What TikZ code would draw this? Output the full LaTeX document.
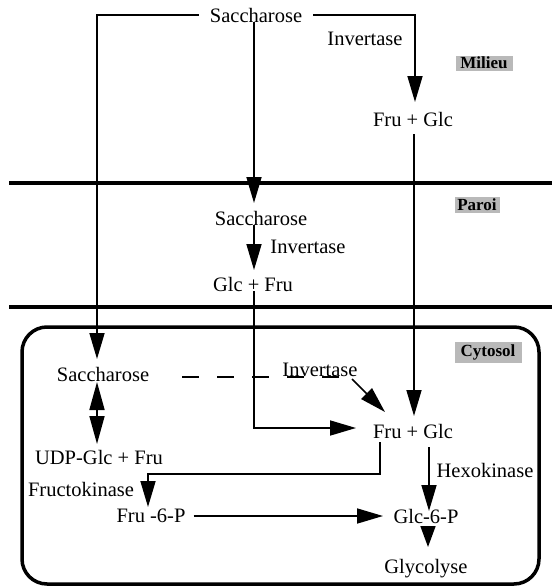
\documentclass[tikz,border=0pt]{standalone}
\usepackage{fontspec}
\setmainfont{Liberation Serif}
\usetikzlibrary{arrows.meta}
\begin{document}
\begin{tikzpicture}[x=1pt,y=-1pt,
  lbl/.style={font=\fontsize{20.5}{24}\selectfont, inner sep=0pt},
  tag/.style={fill=gray!55, font=\fontsize{17}{18}\selectfont\bfseries, inner sep=0pt, text=black},
  conn/.style={line width=1.7pt},
  arr/.style={conn, -{Triangle[length=26pt,width=15pt]}},
  sarr/.style={conn, -{Triangle[length=21pt,width=15pt]}},
  darr/.style={conn, {Triangle[length=28pt,width=15pt]}-{Triangle[length=28pt,width=15pt]}},
  membrane/.style={line width=3.8pt},
  cell/.style={line width=3.5pt, rounded corners=25pt}]
\useasboundingbox (0,0) rectangle (552,587);

% compartments
\draw[membrane] (9,183) -- (552,183);
\draw[membrane] (9,307) -- (552,307);
\draw[cell] (22,327) rectangle (539,584);

% tags
\node[tag, minimum width=57pt, minimum height=15pt] (milieu) at (484,63) {Milieu};
\node[tag, minimum width=45pt, minimum height=16pt] (paroi) at (477,205) {Paroi};
\node[tag, minimum width=67pt, minimum height=21pt] (cytosol) at (488,352) {Cytosol};

% texts
\node[lbl] (s1) at (256,15) {Saccharose};
\node[lbl] (inv1) at (365,39) {Invertase};
\node[lbl] (fg1) at (413,119) {Fru + Glc};
\node[lbl] (s2) at (261,218) {Saccharose};
\node[lbl] (inv2) at (308,247) {Invertase};
\node[lbl] (gf2) at (253,284) {Glc + Fru};
\node[lbl] (s3) at (103,374) {Saccharose};
\node[lbl] (inv3) at (320,370) {Invertase};
\node[lbl] (fg3) at (413,431) {Fru + Glc};
\node[lbl] (udp) at (99,457) {UDP-Glc + Fru};
\node[lbl] (fk) at (81,489) {Fructokinase};
\node[lbl] (f6p) at (151,516) {Fru -6-P};
\node[lbl] (hk) at (485,470) {Hexokinase};
\node[lbl] (g6p) at (426,516) {Glc-6-P};
\node[lbl] (gly) at (426,569) {Glycolyse};

% route coordinates
\coordinate (mx) at (254,0);
\coordinate (rx) at (414,0);
\coordinate (t1) at (97,359);
\coordinate (t2) at (415,102);
\coordinate (t3) at (254,203);
\coordinate (t4) at (254,270);
\coordinate (t5) at (356,428);
\coordinate (t6) at (414,416);
\coordinate (d0) at (182,377);
\coordinate (d1) at (340,377);
\coordinate (g0) at (352,379);
\coordinate (g1) at (385,412);
\coordinate (u0) at (97,382);
\coordinate (u1) at (97,444);
\coordinate (k0) at (380,442);
\coordinate (k1) at (148,474);
\coordinate (k2) at (148,507);
\coordinate (p1) at (383,516);
\coordinate (h0) at (429,447);
\coordinate (h1) at (429,511);
\coordinate (y0) at (428,526);
\coordinate (y1) at (428,547);

% connectors
\draw[arr] ([xshift=-11pt]s1.west) -| (t1);
\draw[arr] ([xshift=11pt]s1.east) -| (t2);
\draw[arr] (s1.south -| mx) -- (t3);
\draw[arr] (s2.south -| mx) -- (t4);
\draw[arr] (gf2.south -| mx) |- (t5);
\draw[arr] ([yshift=-8pt]fg1.south -| rx) -- (t6);
\draw[conn, dash pattern=on 17pt off 18pt] (d0) -- (d1);
\draw[arr] (g0) -- (g1);
\draw[darr] (u0) -- (u1);
\draw[arr] (k0) |- (k1) -- (k2);
\draw[arr] ([xshift=8pt]f6p.east) -- (p1);
\draw[arr] (h0) -- (h1);
\draw[sarr] (y0) -- (y1);
\end{tikzpicture}
\end{document}
